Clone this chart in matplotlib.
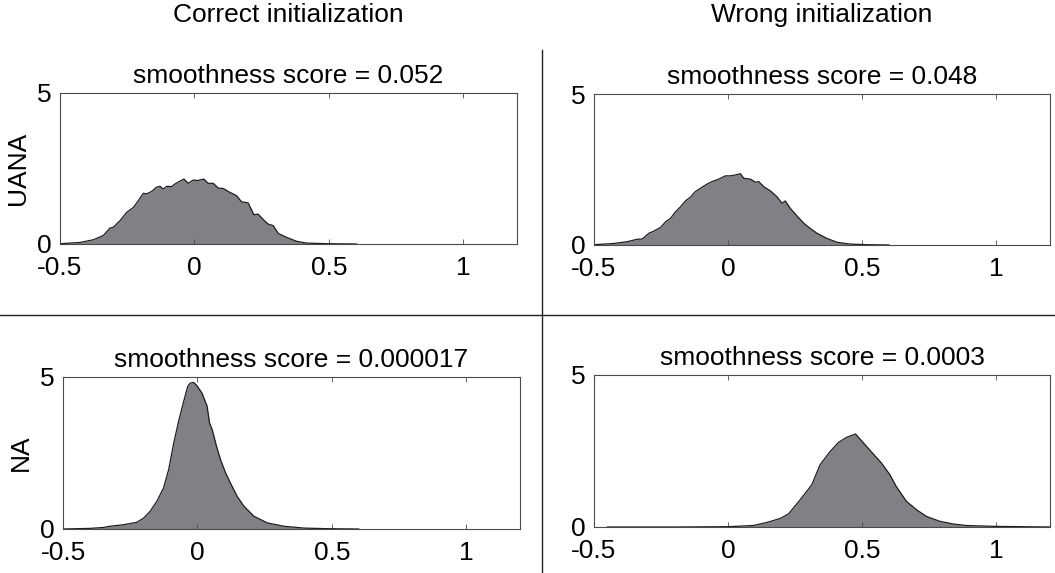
import matplotlib.pyplot as plt
from matplotlib.lines import Line2D

plt.rcParams['font.family'] = ['Liberation Sans', 'DejaVu Sans']

# density curves, one per panel (x in parameter units, y in density)
uana_correct_x = [-0.5, -0.426, -0.376, -0.339, -0.314, -0.302, -0.277, -0.252, -0.227,
                  -0.209, -0.190, -0.178, -0.159, -0.141, -0.128, -0.116, -0.103, -0.085,
                  -0.072, -0.054, -0.039, -0.023, -0.004, 0.011, 0.035, 0.051, 0.070,
                  0.089, 0.107, 0.132, 0.157, 0.175, 0.200, 0.221, 0.237, 0.256, 0.274,
                  0.293, 0.312, 0.343, 0.380, 0.417, 0.491, 0.603]
uana_correct_y = [0.01, 0.05, 0.14, 0.28, 0.53, 0.55, 0.77, 1.05, 1.21,
                  1.43, 1.68, 1.66, 1.74, 1.88, 1.91, 1.82, 1.91, 1.90,
                  1.99, 2.08, 2.15, 2.01, 2.12, 2.10, 2.15, 2.01, 2.01,
                  1.85, 1.84, 1.71, 1.60, 1.40, 1.36, 0.97, 0.99, 0.81, 0.66,
                  0.61, 0.35, 0.22, 0.09, 0.03, 0.01, 0.0]

uana_wrong_x = [-0.5, -0.426, -0.376, -0.339, -0.320, -0.295, -0.277, -0.252, -0.233,
                -0.215, -0.196, -0.177, -0.159, -0.140, -0.122, -0.103, -0.078, -0.060,
                -0.035, -0.010, 0.009, 0.027, 0.046, 0.058, 0.083, 0.102, 0.114, 0.133,
                0.158, 0.182, 0.201, 0.213, 0.232, 0.257, 0.282, 0.306, 0.331, 0.368,
                0.406, 0.455, 0.517, 0.600]
uana_wrong_y = [0.01, 0.05, 0.11, 0.19, 0.20, 0.39, 0.46, 0.58, 0.77,
                0.88, 1.10, 1.27, 1.46, 1.59, 1.77, 1.88, 2.02, 2.10,
                2.18, 2.29, 2.29, 2.32, 2.36, 2.21, 2.18, 2.08, 2.10, 1.93,
                1.79, 1.60, 1.38, 1.46, 1.21, 0.96, 0.72, 0.55, 0.39, 0.22,
                0.09, 0.03, 0.01, 0.0]

na_correct_x = [-0.5, -0.45, -0.40, -0.35, -0.325, -0.275, -0.225, -0.200, -0.176,
                -0.151, -0.126, -0.107, -0.088, -0.070, -0.051, -0.036, -0.027, -0.014,
                -0.004, 0.017, 0.036, 0.045, 0.055, 0.071, 0.086, 0.105, 0.123, 0.148,
                0.173, 0.210, 0.260, 0.322, 0.397, 0.484, 0.600]
na_correct_y = [0.0, 0.01, 0.02, 0.05, 0.09, 0.14, 0.22, 0.36, 0.58,
                0.91, 1.35, 1.95, 2.83, 3.54, 4.20, 4.69, 4.80, 4.82,
                4.74, 4.47, 4.04, 3.49, 3.27, 2.72, 2.28, 1.84, 1.51, 1.07,
                0.75, 0.42, 0.20, 0.09, 0.03, 0.01, 0.0]

na_wrong_x = [-0.45, -0.2, 0.0, 0.095, 0.145, 0.194, 0.225, 0.269, 0.312, 0.343,
              0.380, 0.411, 0.442, 0.475, 0.516, 0.572, 0.603, 0.627, 0.665, 0.702,
              0.739, 0.788, 0.838, 0.887, 0.996, 1.2]
na_wrong_y = [0.0, 0.0, 0.01, 0.05, 0.15, 0.28, 0.43, 0.90, 1.39, 2.05,
              2.48, 2.78, 2.95, 3.06, 2.65, 2.10, 1.72, 1.33, 0.84, 0.57,
              0.35, 0.19, 0.10, 0.05, 0.02, 0.0]

col_titles = ['Correct initialization', 'Wrong initialization']
row_labels = ['UANA', 'NA']
scores = ['0.052', '0.048', '0.000017', '0.0003']

panels = [(uana_correct_x, uana_correct_y), (uana_wrong_x, uana_wrong_y),
          (na_correct_x, na_correct_y), (na_wrong_x, na_wrong_y)]

W, H = 1055, 573
# axes boxes in pixels: left, top, right, bottom
boxes = [(60, 93, 517, 244), (594, 94, 1050, 245),
         (63, 377, 520, 529), (594, 375, 1050, 527)]

FS = 19
fill_color = '#808185'
edge_color = '#1c1c1c'
spine_color = '#4a4a4a'

fig = plt.figure(figsize=(W / 100, H / 100), dpi=100)

for i, ((x, y), (l, t, r, b)) in enumerate(zip(panels, boxes)):
    ax = fig.add_axes([l / W, 1 - b / H, (r - l) / W, (b - t) / H])
    ax.fill_between(x, y, 0, color=fill_color, lw=0)
    ax.plot(x, y, color=edge_color, lw=0.9)
    ax.set_xlim(-0.5, 1.2)
    ax.set_ylim(0, 5)
    ax.set_xticks([-0.5, 0, 0.5, 1])
    ax.set_xticklabels(['-0.5', '0', '0.5', '1'])
    ax.set_yticks([0, 5])
    ax.tick_params(direction='in', length=3.5, width=0.6, color=spine_color,
                   labelsize=FS, top=True, right=True)
    ax.tick_params(axis='x', pad=9)
    ax.tick_params(axis='y', pad=6)
    for s in ax.spines.values():
        s.set_color(spine_color)
        s.set_linewidth(0.8)
    ax.set_title(f'smoothness score = {scores[i]}', fontsize=FS, pad=7)
    if i % 2 == 0:
        ax.set_ylabel(row_labels[i // 2], fontsize=FS, labelpad=5)
    if i < 2:
        fig.text((l + r) / 2 / W, 1 - 22 / H, col_titles[i], fontsize=FS,
                 ha='center', va='baseline')

# separators between the panels
fig.add_artist(Line2D([542 / W, 542 / W], [0, 1 - 50 / H], color='#222222', lw=1.0))
fig.add_artist(Line2D([0, 1], [1 - 315 / H, 1 - 315 / H], color='#222222', lw=1.0))

fig.savefig('out.png', dpi=100)
